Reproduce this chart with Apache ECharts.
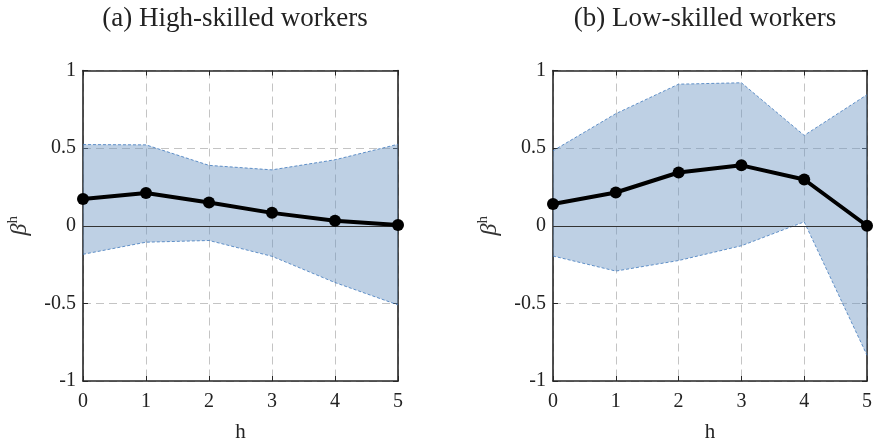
<!DOCTYPE html>
<html>
<head>
<meta charset="utf-8">
<script src="https://cdn.jsdelivr.net/npm/echarts@6/dist/echarts.min.js"></script>
<style>
  html, body { margin: 0; padding: 0; background: #fff; }
  #chart { width: 875px; height: 448px; }
</style>
</head>
<body>
<div id="chart"></div>
<script>
// Horizons
const horizons = [0, 1, 2, 3, 4, 5];

// Panel (a): high-skilled workers
const highBeta  = [0.173, 0.211, 0.150, 0.083, 0.032, 0.005];
const highUpper = [0.523, 0.521, 0.389, 0.360, 0.425, 0.525];
const highLower = [-0.184, -0.106, -0.095, -0.197, -0.366, -0.510];

// Panel (b): low-skilled workers
const lowBeta  = [0.140, 0.214, 0.343, 0.389, 0.298, 0.000];
const lowUpper = [0.483, 0.722, 0.912, 0.921, 0.582, 0.844];
const lowLower = [-0.195, -0.292, -0.224, -0.129, 0.025, -0.834];

const panelTitles = ['(a) High-skilled workers', '(b) Low-skilled workers'];
const yTicks = [-1, -0.5, 0, 0.5, 1];

const FONT = 'Liberation Serif';
const FRAME = '#262626';
const GRIDC = '#c4c4c4';
const BAND_FILL = 'rgba(111,151,195,0.45)';
const BAND_EDGE = '#3f78bd';

const pair = (xs, ys) => xs.map((x, i) => [x, ys[i]]);

const grids = [
  { left: 83, top: 70.5, width: 315, height: 315 },
  { left: 553, top: 70.5, width: 314.5, height: 315 }
];
const titleCenters = [230, 700];

function xAxes(idx) {
  return [
    {
      type: 'value', gridIndex: idx, min: 0, max: 5, interval: 1, position: 'bottom',
      name: 'h', nameLocation: 'middle', nameGap: 41,
      nameTextStyle: { fontFamily: FONT, fontSize: 21, color: '#222' },
      axisLine: { show: true, onZero: false, lineStyle: { color: FRAME, width: 1.6 } },
      axisTick: { show: true, inside: true, length: 5, lineStyle: { color: FRAME } },
      axisLabel: { fontFamily: FONT, fontSize: 20, color: '#222', margin: 11 },
      splitLine: { show: true, lineStyle: { color: GRIDC, type: [8, 5], width: 1 } }
    },
    {
      type: 'value', gridIndex: idx, min: 0, max: 5, interval: 1, position: 'top',
      axisLine: { show: true, onZero: false, lineStyle: { color: FRAME, width: 1.6 } },
      axisTick: { show: true, inside: true, length: 5, lineStyle: { color: FRAME } },
      axisLabel: { show: false }, splitLine: { show: false }
    }
  ];
}

function yAxes(idx) {
  return [
    {
      type: 'value', gridIndex: idx, min: -1, max: 1, interval: 0.5, position: 'left',
      name: '{b|β}{s|h}', nameLocation: 'middle', nameGap: 50, nameRotate: 90,
      nameTextStyle: {
        rich: {
          b: { fontFamily: FONT, fontStyle: 'italic', fontSize: 24, color: '#333' },
          s: { fontFamily: FONT, fontSize: 15, color: '#333', verticalAlign: 'top', padding: [0, 0, 12, 0] }
        }
      },
      axisLine: { show: true, onZero: false, lineStyle: { color: FRAME, width: 1.6 } },
      axisTick: { show: true, inside: true, length: 5, lineStyle: { color: FRAME } },
      axisLabel: {
        fontFamily: FONT, fontSize: 20, color: '#222', margin: 7,
        formatter: v => (yTicks.includes(v) ? String(v) : '')
      },
      splitLine: { show: true, lineStyle: { color: GRIDC, type: [8, 5], width: 1 } }
    },
    {
      type: 'value', gridIndex: idx, min: -1, max: 1, interval: 0.5, position: 'right',
      axisLine: { show: true, onZero: false, lineStyle: { color: FRAME, width: 1.6 } },
      axisTick: { show: true, inside: true, length: 5, lineStyle: { color: FRAME } },
      axisLabel: { show: false }, splitLine: { show: false }
    }
  ];
}

// Confidence band polygon drawn through the axis coordinate system
function bandSeries(idx, upper, lower) {
  const rows = horizons.map((h, i) => [h, upper[i], lower[i]]);
  return {
    type: 'custom', xAxisIndex: idx * 2, yAxisIndex: idx * 2, z: 1,
    silent: true,
    data: [0],
    renderItem: (params, api) => {
      const pts = rows.map(r => api.coord([r[0], r[1]]))
        .concat(rows.slice().reverse().map(r => api.coord([r[0], r[2]])));
      return { type: 'polygon', shape: { points: pts }, style: { fill: BAND_FILL, stroke: null } };
    }
  };
}

function edgeSeries(idx, values) {
  return {
    type: 'line', xAxisIndex: idx * 2, yAxisIndex: idx * 2, z: 2,
    data: pair(horizons, values), symbol: 'none', silent: true,
    lineStyle: { color: BAND_EDGE, width: 0.8, type: [3, 2] }
  };
}

function betaSeries(idx, values) {
  return {
    type: 'line', xAxisIndex: idx * 2, yAxisIndex: idx * 2, z: 5,
    data: pair(horizons, values),
    symbol: 'circle', symbolSize: 12,
    itemStyle: { color: '#000' },
    lineStyle: { color: '#000', width: 4 },
    markLine: {
      silent: true, symbol: 'none', label: { show: false },
      lineStyle: { color: '#333', width: 1, type: 'solid' },
      data: [{ yAxis: 0 }]
    }
  };
}

const chart = echarts.init(document.getElementById('chart'), null, { renderer: 'canvas' });
chart.setOption({
  animation: false,
  backgroundColor: '#fff',
  title: panelTitles.map((t, i) => ({
    text: t, left: titleCenters[i], top: 0, textAlign: 'center',
    textStyle: { fontFamily: FONT, fontWeight: 'normal', fontSize: 27, color: '#222' }
  })),
  grid: grids,
  xAxis: [...xAxes(0), ...xAxes(1)],
  yAxis: [...yAxes(0), ...yAxes(1)],
  series: [
    bandSeries(0, highUpper, highLower),
    edgeSeries(0, highUpper),
    edgeSeries(0, highLower),
    betaSeries(0, highBeta),
    bandSeries(1, lowUpper, lowLower),
    edgeSeries(1, lowUpper),
    edgeSeries(1, lowLower),
    betaSeries(1, lowBeta)
  ]
});
</script>
</body>
</html>
